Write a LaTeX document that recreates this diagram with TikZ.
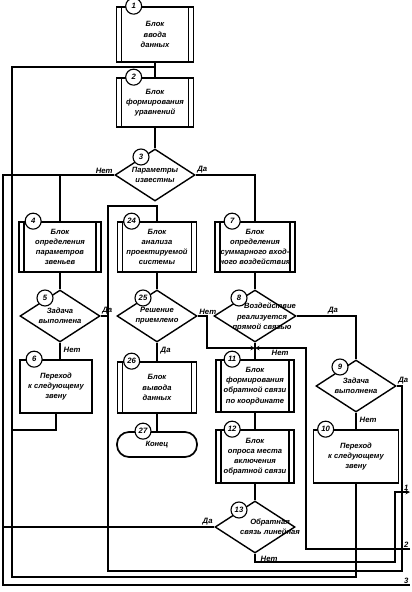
\documentclass[tikz,border=0pt]{standalone}
\usepackage{fontspec}
\setmainfont{Liberation Sans}
\usetikzlibrary{shapes.geometric,positioning}

\begin{document}
\begin{tikzpicture}[x=0.5mm,y=-0.5mm,line width=1.8pt,>=stealth,
  font=\bfseries\itshape\fontsize{10.8}{14.5}\selectfont,
  blok/.style={rectangle,draw,line width=2.4pt,align=center,inner sep=1pt,
    path picture={\draw[line width=2pt]
      ([xshift=2.5mm]path picture bounding box.north west) -- ([xshift=2.5mm]path picture bounding box.south west)
      ([xshift=-2.5mm]path picture bounding box.north east) -- ([xshift=-2.5mm]path picture bounding box.south east);}},
  perehod/.style={rectangle,draw,line width=2.4pt,align=center,inner sep=1pt},
  romb/.style={diamond,draw,line width=2pt,minimum width=40mm,minimum height=26mm,inner sep=0pt},
  rtext/.style={align=center,inner sep=0pt},
  nomer/.style={circle,draw,fill=white,line width=1.6pt,minimum size=8mm,inner sep=0pt,
    font=\bfseries\itshape\fontsize{11}{11}\selectfont},
  otvet/.style={inner sep=1.5pt,font=\bfseries\itshape\fontsize{11}{11}\selectfont},
  konec/.style={rectangle,rounded corners=6mm,draw,line width=2.4pt,minimum width=40mm,minimum height=12.5mm}]
\useasboundingbox (0,0) rectangle (412,592);

\node[blok,minimum width=38.5mm,minimum height=27.5mm] (n1) at (155,34.5) {Блок\\ввода\\данных};
\node[blok,minimum width=38.5mm,minimum height=24.5mm] (n2) at (155,102.5) {Блок\\формирования\\уравнений};
\node[romb] (d3) at (155,175) {};
\node[rtext] (t3) at (d3) {Параметры\\известны};

\node[blok,minimum width=41mm,minimum height=25mm] (n4) at (60,247) {Блок\\определения\\параметров\\звеньев};
\node[blok,minimum width=39.5mm,minimum height=25mm] (n24) at (157,247) {Блок\\анализа\\проектируемой\\системы};
\node[blok,minimum width=40mm,minimum height=25mm] (n7) at (255,247) {Блок\\определения\\суммарного вход-\\ного воздействия};

\node[romb] (d5) at (60,316) {};
\node[rtext] (t5) at (d5) {Задача\\выполнена};
\node[romb] (d25) at (157,316) {};
\node[rtext] (t25) at (d25) {Решение\\приемлемо};
\node[romb,minimum width=41mm] (d8) at (255,316) {};
\node[rtext] (t8) at (262,317) {\hspace*{8mm}Воздействие\\реализуется\\прямой связью};

\node[perehod,minimum width=36mm,minimum height=26.5mm] (n6) at (56,386.5) {Переход\\к следующему\\звену};
\node[blok,minimum width=39.5mm,minimum height=25.5mm] (n26) at (157,387.5) {Блок\\вывода\\данных};
\node[konec] (n27) at (157,444.5) {Конец};
\node[blok,minimum width=39mm,minimum height=26mm] (n11) at (255,386) {Блок\\формирования\\обратной связи\\по координате};
\node[blok,minimum width=39mm,minimum height=26.5mm] (n12) at (255,456.5) {Блок\\опроса места\\включения\\обратной связи};
\node[romb] (d9) at (356,386) {};
\node[rtext] (t9) at (d9) {Задача\\выполнена};
\node[perehod,minimum width=42.5mm,minimum height=26.5mm] (n10) at (356,456.5) {Переход\\к следующему\\звену};
\node[romb] (d13) at (255,527) {};
\node[rtext] (t13) at (270,527) {Обратная\\связь линейная};

\coordinate (jA) at (108,206);
\coordinate (jN) at (255,348);
\coordinate (r1) at (410,492);
\coordinate (r2) at (410,549);
\coordinate (r3) at (410,585);

\draw (n1) -- (n2);
\draw (n2) -- (d3);
\draw (d3.west) -- (3,175) |- (r3);
\draw (d3.west -| n4) -- (n4);
\draw (d3.east) -| (n7);
\draw (n4) -- (d5);
\draw (n24) -- (d25);
\draw (n7) -- (d8);
\draw (d5.east) -- (d5.east -| jA);
\draw (d9.east) -| (402,571) -| (jA) -| (n24);
\draw (d5.south) -- (d5.south |- n6.north);
\draw (n6) |- (12,430);
\draw (n10) |- (12,577) |- (n1.south |- 0,67) -- (n2);
\draw (d25) -- (n26);
\draw (n26) -- (n27);
\draw[->] (d25.east) -| (207,330) |- (jN);
\draw[->] (r2) -| (306,400) |- (jN);
\draw (d8) -- (n11);
\draw (d8.east) -| (d9);
\draw (d9) -- (n10);
\draw (n11) -- (n12);
\draw (n12) -- (d13);
\draw (d13.west) -- (3,527);
\draw[->] (d13.south) |- (395,562) |- (r1);

\node[nomer] (c1) at ([shift={(18,0)}]n1.north west) {1};
\node[nomer] (c2) at ([shift={(18,0)}]n2.north west) {2};
\node[nomer] (c3) at ([shift={(-14,-18)}]d3.center) {3};
\node[nomer] (c4) at ([shift={(15,0)}]n4.north west) {4};
\node[nomer] (c24) at ([shift={(15,0)}]n24.north west) {24};
\node[nomer] (c7) at ([shift={(18,0)}]n7.north west) {7};
\node[nomer] (c5) at ([shift={(-15,-18)}]d5.center) {5};
\node[nomer] (c25) at ([shift={(-14,-18)}]d25.center) {25};
\node[nomer] (c8) at ([shift={(-16,-18)}]d8.center) {8};
\node[nomer] (c6) at ([shift={(15,0)}]n6.north west) {6};
\node[nomer] (c26) at ([shift={(15,0)}]n26.north west) {26};
\node[nomer] (c27) at ([shift={(-14,0)}]n27.north) {27};
\node[nomer] (c11) at ([shift={(17,0)}]n11.north west) {11};
\node[nomer] (c12) at ([shift={(17,0)}]n12.north west) {12};
\node[nomer] (c9) at ([shift={(-16,-19)}]d9.center) {9};
\node[nomer] (c10) at ([shift={(13,0)}]n10.north west) {10};
\node[nomer] (c13) at ([shift={(-16,-17)}]d13.center) {13};

\node[otvet,anchor=south east] (o3n) at (d3.west) {Нет};
\node[otvet,anchor=south west] (o3d) at (d3.east) {Да};
\node[otvet,anchor=south west] (o5d) at (d5.east) {Да};
\node[otvet,anchor=north west] (o5n) at ([shift={(2,3)}]d5.south) {Нет};
\node[otvet,anchor=south west] (o25n) at (d25.east) {Нет};
\node[otvet,anchor=north west] (o25d) at ([shift={(2,3)}]d25.south) {Да};
\node[otvet,anchor=south] (o8d) at (333,316) {Да};
\node[otvet,anchor=north west] (o8n) at ([shift={(15,0)}]jN) {Нет};
\node[otvet,anchor=south west] (o9d) at (d9.east) {Да};
\node[otvet,anchor=north west] (o9n) at ([shift={(2,3)}]d9.south) {Нет};
\node[otvet,anchor=south east] (o13d) at (d13.west) {Да};
\node[otvet,anchor=north west] (o13n) at ([shift={(4,1)}]d13.south) {Нет};

\node[otvet,anchor=south east] (l1) at (r1) {1};
\node[otvet,anchor=south east] (l2) at (r2) {2};
\node[otvet,anchor=south east] (l3) at (r3) {3};
\end{tikzpicture}
\end{document}
